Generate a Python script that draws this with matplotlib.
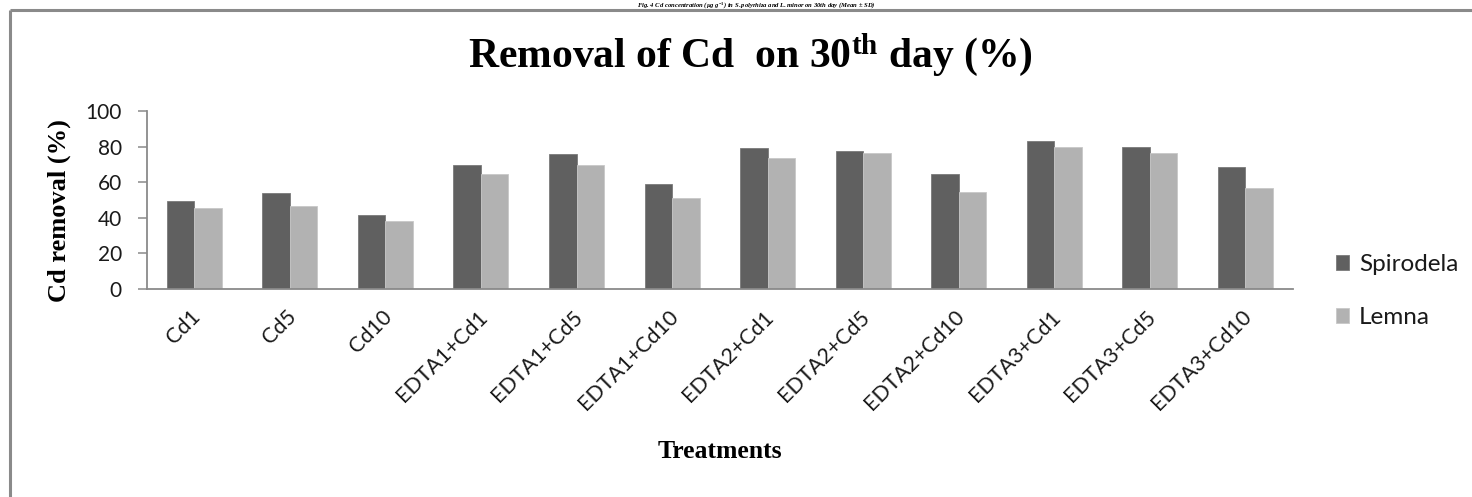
import matplotlib
matplotlib.use("Agg")
import matplotlib.pyplot as plt
import matplotlib.transforms as mtransforms
from matplotlib.lines import Line2D
import numpy as np

# ---- data ----
treatments = ["Cd1", "Cd5", "Cd10", "EDTA1+Cd1", "EDTA1+Cd5", "EDTA1+Cd10",
              "EDTA2+Cd1", "EDTA2+Cd5", "EDTA2+Cd10", "EDTA3+Cd1", "EDTA3+Cd5", "EDTA3+Cd10"]
spirodela = [49.6, 53.8, 41.5, 69.9, 75.7, 58.9, 79.1, 77.8, 64.8, 83.4, 80.0, 68.4]
lemna = [45.3, 46.6, 38.0, 64.8, 69.9, 51.0, 73.5, 76.3, 54.7, 80.0, 76.3, 56.8]
series_names = ["Spirodela", "Lemna"]
yticks = [0, 20, 40, 60, 80, 100]

plt.rcParams['mathtext.fontset'] = 'custom'
plt.rcParams['mathtext.rm'] = 'Liberation Serif:bold'
plt.rcParams['mathtext.bf'] = 'Liberation Serif:bold'
plt.rcParams['mathtext.it'] = 'Liberation Serif:bold:italic'

W, H = 1472, 497
fig = plt.figure(figsize=(W / 100, H / 100), dpi=100)
fig.patch.set_facecolor("white")

# chart-area border (extends beyond the picture to right and bottom)
bc = "#8a8a8a"
fig.add_artist(Line2D([10 / W, 10 / W], [1 - 9.5 / H, -0.05], transform=fig.transFigure,
                      color=bc, lw=2.2, solid_capstyle="butt"))
fig.add_artist(Line2D([10 / W, 1.05], [1 - 9.5 / H, 1 - 9.5 / H], transform=fig.transFigure,
                      color=bc, lw=2.2, solid_capstyle="butt"))

# caption line at the very top of the picture
fig.text(756 / W, 1 - 7.0 / H,
         "Fig. 4 Cd concentration (µg g$^{-1}$) in $\\it{S. polyrhiza}$ and $\\it{L. minor}$ on 30th day (Mean ± SD)",
         ha="center", va="baseline", fontsize=4.8, family="Liberation Serif",
         fontweight="bold", style="italic", color="black")

ax = fig.add_axes([146.6 / W, 1 - 288.7 / H, (1293 - 146.6) / W, (288.7 - 111.3) / H])

x = np.arange(len(treatments))
bw = 0.288
ax.bar(x - bw / 2, spirodela, width=bw, color="#606060", edgecolor="#7a7a7a",
       linewidth=0.6, label=series_names[0])
ax.bar(x + bw / 2, lemna, width=bw, color="#b2b2b2", edgecolor="#c8c8c8",
       linewidth=0.6, label=series_names[1])

ax.set_xlim(-0.5, len(treatments) - 0.5)
ax.set_ylim(0, 100)
ax.set_yticks(yticks)
ax.set_xticks(x)
ax.set_xticklabels(treatments, rotation=45, ha="right", va="center",
                   rotation_mode="anchor", fontsize=15.5, family="Lato")
ax.tick_params(axis="x", length=0, pad=18)
ax.tick_params(axis="y", length=6.8, width=1.1, color=bc, pad=11, labelsize=15,
               direction="out")
for lab in ax.get_yticklabels():
    lab.set_family("Lato")
    lab.set_color("#1a1a1a")
offset = mtransforms.ScaledTranslation(3 / 100, 0, fig.dpi_scale_trans)
for lab in ax.get_xticklabels():
    lab.set_transform(lab.get_transform() + offset)
    lab.set_color("#1a1a1a")

for s in ["top", "right"]:
    ax.spines[s].set_visible(False)
for s in ["left", "bottom"]:
    ax.spines[s].set_color(bc)
    ax.spines[s].set_linewidth(1.3)

ax.set_ylabel("Cd removal (%)", fontsize=19, family="Liberation Serif",
              fontweight="bold", va="center")
ax.yaxis.set_label_coords((59.5 - 146.6) / (1293 - 146.6), (288.7 - 211) / (288.7 - 111.3))
ax.set_xlabel("Treatments", fontsize=18.5, family="Liberation Serif",
              fontweight="bold", va="center")
ax.xaxis.set_label_coords(0.5, (288.7 - 452) / (288.7 - 111.3))

fig.text(750 / W, 1 - 67 / H, "Removal of Cd  on 30$^{\\mathbf{th}}$ day (%)",
         ha="center", va="baseline", fontsize=30, family="Liberation Serif",
         fontweight="bold")

leg = fig.legend(loc="center left", bbox_to_anchor=(1336 / W, 1 - 291 / H),
                 frameon=False, prop={"family": "Lato", "size": 17.5},
                 handlelength=0.55, handleheight=0.55, handletextpad=0.4,
                 labelspacing=1.3, borderpad=0, borderaxespad=0)
for t in leg.get_texts():
    t.set_color("#1a1a1a")

fig.savefig("out.png", dpi=100, facecolor="white")
